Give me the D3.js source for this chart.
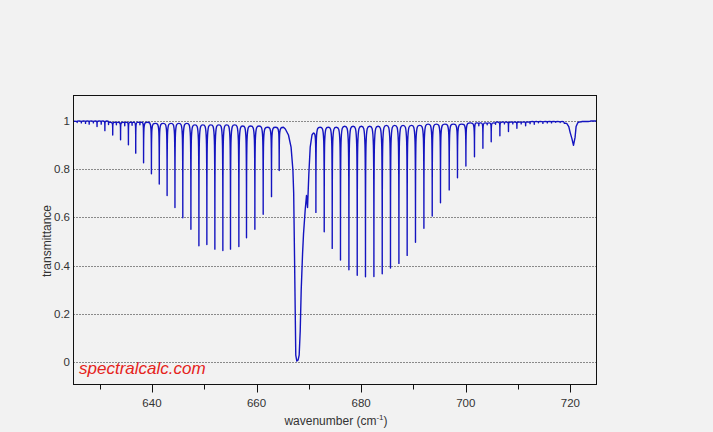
<!DOCTYPE html>
<html>
<head>
<meta charset="utf-8">
<script src="https://cdn.jsdelivr.net/npm/d3@7"></script>
<style>
  html, body { margin: 0; padding: 0; background: #f2f2f2; }
  svg { display: block; }
  text { font-family: Arial, "Liberation Sans", sans-serif; }
</style>
</head>
<body>
<svg id="chart" width="713" height="432"></svg>
<script>
// ---- data ----
// main P-branch absorption lines: [wavenumber, minimum transmittance]
const pBranch = [[626.5,0.99],[628.0,0.985],[629.5,0.975],[631.0,0.958],[632.5,0.94],[634.0,0.92],
  [635.5,0.90],[636.9,0.865],[638.4,0.825],[639.9,0.78],[641.4,0.737],[642.9,0.69],[644.4,0.64],
  [645.9,0.598],[647.45,0.55],[648.98,0.482],[650.5,0.487],[652.03,0.468],[653.56,0.462],
  [655.02,0.468],[656.62,0.479],[658.08,0.515],[659.68,0.55],[661.27,0.612],[662.86,0.685],[664.33,0.793]];
// Q-branch profile (continuous points)
const qBranch = [[665.15,0.972],[665.5,0.965],[666.1,0.94],[666.6,0.89],[666.95,0.795],[667.1,0.70],
  [667.26,0.44],[667.4,0.20],[667.5,0.03],[667.7,0.005],[667.95,0.01],[668.15,0.03],[668.35,0.13],
  [668.54,0.30],[668.8,0.45],[668.98,0.53],[669.3,0.63],[669.55,0.69],[669.75,0.64],[670.0,0.78],
  [670.26,0.89],[670.6,0.94],[670.85,0.948]];
// main R-branch absorption lines
const rBranch = [[671.35,0.62],[672.94,0.54],[674.47,0.471],[676.05,0.423],[677.66,0.383],[679.25,0.36],
  [680.83,0.354],[682.44,0.355],[684.03,0.366],[685.61,0.39],[687.22,0.409],[688.8,0.442],[690.39,0.496],
  [692.0,0.554],[693.59,0.605],[695.17,0.66],[696.84,0.713],[698.42,0.763],[700.03,0.812],[701.67,0.85],
  [703.28,0.885],[704.87,0.912],[706.53,0.937],[708.17,0.954],[709.78,0.968],[711.45,0.978],[713.1,0.984],
  [714.75,0.988],[716.4,0.99],[718.05,0.992]];
// weak lines in the band wings
const weakLines = [[625.7,0.992],[627.3,0.988],[628.8,0.99],[630.3,0.985],[631.7,0.983],[633.2,0.982],
  [634.8,0.978],[636.2,0.98],[637.7,0.982],[702.5,0.978],[704.1,0.982],[705.7,0.984],[707.4,0.986],
  [709.0,0.986],[710.6,0.986],[712.3,0.987],[713.9,0.991],[715.6,0.99],[717.2,0.993],[718.8,0.992],
  [722.2,0.996],[723.8,0.997]];
// hot-band Q-branch near 720.8 (continuous points)
const hotBand = [[719.3,0.988],[719.7,0.975],[719.97,0.95],[720.3,0.925],[720.6,0.897],[720.9,0.93],
  [721.1,0.975],[721.4,0.99],[721.7,0.994]];
// band edges
const edges = [[625,0.997],[725,0.998]];
// transmittance reached between lines (step envelope): [from wavenumber, value]
const envelope = [[625,0.998],[632,0.993],[640,0.988],[648,0.982],[656,0.977],[661,0.972],[671,0.972],
  [676,0.976],[684,0.98],[692,0.985],[700,0.99],[706,0.994],[712,0.996]];

const xTicksMajor = [640, 660, 680, 700, 720];
const xTicksMinor = [630, 650, 670, 690, 710];
const yTicks = [0, 0.2, 0.4, 0.6, 0.8, 1];
const yTickLabels = ["0", "0.2", "0.4", "0.6", "0.8", "1"];

// ---- build the spectrum vertex list ----
const marks = [];
pBranch.concat(rBranch, weakLines).forEach(d => marks.push({wn: d[0], t: d[1], kind: "line"}));
qBranch.concat(hotBand, edges).forEach(d => marks.push({wn: d[0], t: d[1], kind: "profile"}));
marks.sort((a, b) => a.wn - b.wn);
const envIdx = d3.bisector(d => d[0]).right;
const pts = [];
for (let i = 0; i < marks.length; i++) {
  pts.push(marks[i]);
  const n = marks[i + 1];
  if (n && marks[i].kind === "line" && n.kind === "line") {
    const mid = (marks[i].wn + n.wn) / 2;
    const e = envelope[Math.max(0, envIdx(envelope, mid) - 1)][1];
    pts.push({wn: mid, t: e, kind: "peak"});
  }
}

// ---- layout ----
const svg = d3.select("#chart");
const L = 73.5, R = 596.5, T = 95.5, B = 384.5;
const x = d3.scaleLinear().domain([625, 725]).range([L, R]);
const y = d3.scaleLinear().domain([0, 1]).range([362.3, 120.5]);

svg.append("rect").attr("width", 713).attr("height", 432).attr("fill", "#f2f2f2");

// grid
svg.append("g").selectAll("line").data(yTicks).join("line")
  .attr("x1", L).attr("x2", R)
  .attr("y1", d => Math.round(y(d)) + 0.5).attr("y2", d => Math.round(y(d)) + 0.5)
  .attr("stroke", "#222").attr("stroke-width", 1).attr("stroke-dasharray", "1,2");

// y labels
svg.append("g").selectAll("text").data(yTicks).join("text")
  .attr("x", 70).attr("y", d => y(d) + 4)
  .attr("text-anchor", "end").attr("font-size", 11.5).attr("fill", "#333")
  .text((d, i) => yTickLabels[i]);

// clip
svg.append("clipPath").attr("id", "clip").append("rect")
  .attr("x", L).attr("y", T).attr("width", R - L).attr("height", B - T);

// spectrum: sharp line cores with rounded tops between lines
const p = d3.path();
pts.forEach((d, i) => {
  const px = x(d.wn), py = y(d.t);
  if (i === 0) { p.moveTo(px, py); return; }
  const a = pts[i - 1];
  const ax = x(a.wn), ay = y(a.t);
  if (d.kind === "line" && a.kind !== "line") {
    // descending into a line core: horizontal at top, vertical at the tip
    p.bezierCurveTo(px, ay, px, ay, px, py);
  } else if (a.kind === "line" && d.kind !== "line") {
    // rising out of a line core
    p.bezierCurveTo(ax, py, ax, py, px, py);
  } else {
    p.lineTo(px, py);
  }
});
svg.append("path").attr("d", p.toString())
  .attr("clip-path", "url(#clip)")
  .attr("fill", "none").attr("stroke", "#1414c0").attr("stroke-width", 1.4)
  .attr("stroke-linejoin", "round");

// frame
svg.append("rect").attr("x", L).attr("y", T).attr("width", R - L).attr("height", B - T)
  .attr("fill", "none").attr("stroke", "#111").attr("stroke-width", 1);

// x axis ticks
const xt = svg.append("g");
xt.selectAll("line.maj").data(xTicksMajor).join("line").attr("class", "maj")
  .attr("x1", d => Math.round(x(d)) + 0.5).attr("x2", d => Math.round(x(d)) + 0.5)
  .attr("y1", B).attr("y2", B + 8).attr("stroke", "#111");
xt.selectAll("line.min").data(xTicksMinor).join("line").attr("class", "min")
  .attr("x1", d => Math.round(x(d)) + 0.5).attr("x2", d => Math.round(x(d)) + 0.5)
  .attr("y1", B).attr("y2", B + 5).attr("stroke", "#111");
xt.selectAll("text").data(xTicksMajor).join("text")
  .attr("x", d => x(d)).attr("y", 407)
  .attr("text-anchor", "middle").attr("font-size", 11.5).attr("fill", "#333")
  .text(d => d);

// axis titles
const xl = svg.append("text").attr("x", 336).attr("y", 425)
  .attr("text-anchor", "middle").attr("font-size", 12).attr("fill", "#333");
xl.append("tspan").text("wavenumber (cm");
xl.append("tspan").attr("dy", -5).attr("font-size", 8).text("-1");
xl.append("tspan").attr("dy", 5).text(")");

svg.append("text").attr("transform", "translate(51,241) rotate(-90)")
  .attr("text-anchor", "middle").attr("font-size", 12).attr("fill", "#333")
  .text("transmittance");

// watermark
svg.append("text").attr("x", 79).attr("y", 374)
  .attr("font-size", 17).attr("font-style", "italic").attr("fill", "#e5231b")
  .text("spectralcalc.com");
</script>
</body>
</html>
